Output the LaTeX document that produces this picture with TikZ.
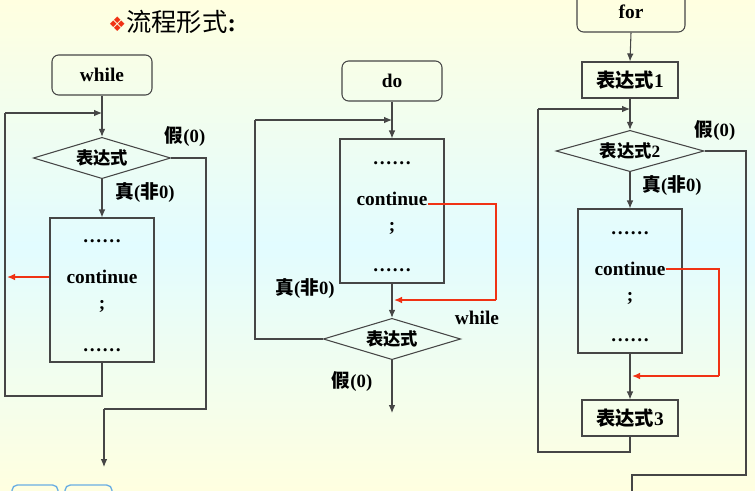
\documentclass[tikz,border=0pt]{standalone}
\usepackage{fontspec}
\setmainfont{Liberation Serif}
\newfontfamily\cjk{Noto Sans CJK SC}
\newfontfamily\djsym{DejaVu Sans}
\usetikzlibrary{shapes.geometric,arrows.meta}
\definecolor{bgy}{RGB}{255,255,224}
\definecolor{bgc}{RGB}{226,252,255}
\definecolor{redl}{RGB}{240,50,20}
\definecolor{lineg}{RGB}{70,70,70}
\newcommand{\ck}[1]{{\cjk #1}}
\begin{document}
\begin{tikzpicture}[x=0.75pt,y=-0.75pt,
  ln/.style={draw=lineg,line width=0.8pt},
  arr/.style={ln,-{Latex[length=6pt,width=5pt]}},
  rarr/.style={draw=redl,line width=1pt,-{Latex[length=6pt,width=5pt]}},
  kw/.style={draw=lineg,line width=0.8pt,rounded corners=5pt,minimum width=75pt,minimum height=30pt,font=\bfseries\fontsize{14.5}{16}\selectfont,inner sep=0pt},
  bx/.style={draw=lineg,line width=0.8pt,minimum width=72pt,minimum height=27pt,font=\bfseries\fontsize{14.5}{16}\selectfont,inner sep=0pt},
  dm/.style={draw=lineg,line width=0.8pt,diamond,aspect=3.3,minimum width=103pt,minimum height=31pt,inner sep=0pt,font=\bfseries\fontsize{13}{15}\selectfont},
  body/.style={draw=lineg,line width=0.8pt,minimum width=78pt,minimum height=108pt,inner sep=0pt},
  bt/.style={font=\bfseries\fontsize{14.5}{16}\selectfont,inner sep=0pt},
  lb/.style={font=\bfseries\fontsize{14}{16}\selectfont,inner sep=0pt}]
\shade[top color=bgy,bottom color=bgy,middle color=bgc] (0,0) rectangle (755,490);
\useasboundingbox (0,0) rectangle (755,490);
\begin{scope}
\clip (0,0) rectangle (755,490);
\draw[cyan!70!blue!60,line width=1pt,rounded corners=4pt] (12,485) rectangle (58,510);
\draw[cyan!70!blue!60,line width=1pt,rounded corners=4pt] (65,485) rectangle (112,510);
\end{scope}
\node[anchor=west,inner sep=0pt] (title) at (108,22) {{\djsym\color{redl}\fontsize{15}{17}\selectfont ❖}{\cjk\fontsize{19}{21}\selectfont 流程形式}{\bfseries\fontsize{19}{21}\selectfont :}};

% ---------- while ----------
\node[kw] (w) at (102,75) {while};
\node[dm] (wd) at (102,158) {\ck{表达式}};
\node[body] (wb) at (102,290) {};
\node[bt] (wb1) at (102,241) {……};
\node[bt] (wb2) at (102,277) {continue};
\node[bt] (wb3) at (102,306) {;};
\node[bt] (wb4) at (102,350) {……};
\coordinate (wm) at (102,113);
\coordinate (wl1) at (102,396);
\coordinate (wl2) at (5,396);
\coordinate (wl3) at (5,113);
\coordinate (wf1) at (206,158);
\coordinate (wf2) at (206,409);
\coordinate (wf3) at (104,409);
\coordinate (wout) at (104,467);
\coordinate (wc) at (7,277);
\draw[ln] (w.south) -- (wm);
\draw[arr] (wm) -- (wd.north);
\draw[arr] (wd.south) -- (wb.north);
\draw[ln] (wb.south) -- (wl1) -- (wl2) -- (wl3);
\draw[arr] (wl3) -- (wm);
\draw[ln] (wd.east) -- (wf1) -- (wf2) -- (wf3);
\draw[arr] (wf3) -- (wout);
\draw[rarr] (wb.west |- wb2) -- (wc);
\node[lb] (wfl) at (185,137) {\ck{假}(0)};
\node[lb] (wtl) at (145,192) {\ck{真}(\ck{非}0)};

% ---------- do ----------
\node[kw] (d) at (392,81) {do};
\node[body] (db) at (392,211) {};
\node[bt] (db1) at (392,163) {……};
\node[bt] (db2) at (392,199) {continue};
\node[bt] (db3) at (392,228) {;};
\node[bt] (db4) at (392,270) {……};
\node[dm] (dd) at (392,339) {\ck{表达式}};
\coordinate (dm) at (392,120);
\coordinate (dl1) at (255,339);
\coordinate (dl2) at (255,120);
\coordinate (dr1) at (496,204);
\coordinate (dr2) at (496,300);
\coordinate (dr3) at (394,300);
\coordinate (dout) at (392,413);
\draw[ln] (d.south) -- (dm);
\draw[arr] (dm) -- (db.north);
\draw[arr] (db.south) -- (dd.north);
\draw[ln] (dd.west) -- (dl1) -- (dl2);
\draw[arr] (dl2) -- (dm);
\draw[arr] (dd.south) -- (dout);
\draw[draw=redl,line width=1pt] (db2.east |- dr1) -- (dr1) -- (dr2);
\draw[rarr] (dr2) -- (dr3);
\node[lb] (dtl) at (305,288) {\ck{真}(\ck{非}0)};
\node[bt] (dwl) at (477,318) {while};
\node[lb] (dfl) at (352,381) {\ck{假}(0)};

% ---------- for ----------
\node[kw,minimum width=81pt] (f) at (631,12) {for};
\node[bx] (e1) at (630,80) {\ck{表达式}1};
\node[dm,minimum width=111pt] (fd) at (630,151) {\ck{表达式}2};
\node[body] (fb) at (630,281) {};
\node[bt] (fb1) at (630,233) {……};
\node[bt] (fb2) at (630,269) {continue};
\node[bt] (fb3) at (630,298) {;};
\node[bt] (fb4) at (630,340) {……};
\node[bx] (e3) at (630,418) {\ck{表达式}3};
\coordinate (fm) at (630,109);
\coordinate (fl1) at (630,452);
\coordinate (fl2) at (538,452);
\coordinate (fl3) at (538,109);
\coordinate (ff1) at (746,151);
\coordinate (ff2) at (746,475);
\coordinate (ff3) at (632,475);
\coordinate (ff4) at (632,495);
\coordinate (fr1) at (719,269);
\coordinate (fr2) at (719,376);
\coordinate (fr3) at (632,376);
\draw[arr] (f.south) -- (e1.north);
\draw[ln] (e1.south) -- (fm);
\draw[arr] (fm) -- (fd.north);
\draw[arr] (fd.south) -- (fb.north);
\draw[arr] (fb.south) -- (e3.north);
\draw[ln] (e3.south) -- (fl1) -- (fl2) -- (fl3);
\draw[arr] (fl3) -- (fm);
\draw[ln] (fd.east) -- (ff1) -- (ff2) -- (ff3) -- (ff4);
\draw[draw=redl,line width=1pt] (fb2.east |- fr1) -- (fr1) -- (fr2);
\draw[rarr] (fr2) -- (fr3);
\node[lb] (ffl) at (715,131) {\ck{假}(0)};
\node[lb] (ftl) at (672,185) {\ck{真}(\ck{非}0)};
\end{tikzpicture}
\end{document}
